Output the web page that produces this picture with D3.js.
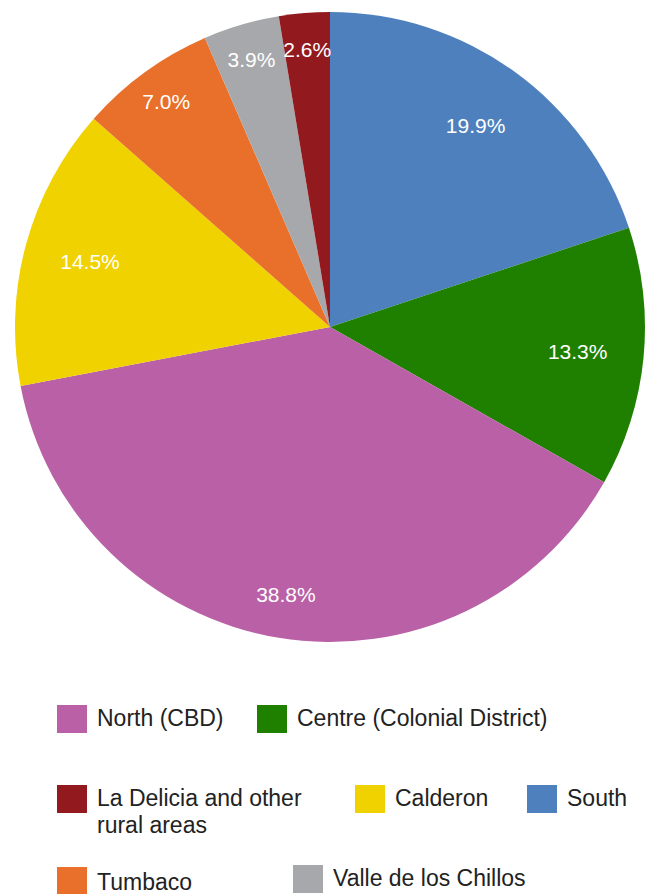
<!DOCTYPE html>
<html><head><meta charset="utf-8">
<script src="https://cdn.jsdelivr.net/npm/d3@7/dist/d3.min.js"></script>
<style>body{margin:0;background:#fff}svg{display:block}text{font-family:"Liberation Sans",Arial,Helvetica,sans-serif}</style>
</head><body><svg id="c" width="652" height="894"></svg>
<script>
const categories = ["South","Centre (Colonial District)","North (CBD)","Calderon","Tumbaco","Valle de los Chillos","La Delicia and other rural areas"];
const values = [19.9, 13.3, 38.8, 14.5, 7.0, 3.9, 2.6];
const colors = ["#4e80bd","#1f8000","#b960a6","#f0d200","#e9702a","#a7a8ab","#921a1e"];

const svg = d3.select("#c");
const cx = 330, cy = 327, R = 315;
const pie = d3.pie().sort(null).value(d => d.v);
const data = pie(categories.map((c,i)=>({c, v: values[i], col: colors[i]})));
const arc = d3.arc().innerRadius(0).outerRadius(R);
const g = svg.append("g").attr("transform", `translate(${cx},${cy})`);
g.selectAll("path").data(data).join("path").attr("d", arc).attr("fill", d => d.data.col);

function labelRadius(d) {
  const f = (d.endAngle - d.startAngle) / (2*Math.PI);
  if (f > 0.3) return R*0.86;
  if (f > 0.1) return R*0.79;
  return R*0.885;
}
g.selectAll("text.lbl").data(data).join("text").attr("class","lbl")
  .attr("transform", d => {
    const r = labelRadius(d);
    const [x,y] = d3.arc().innerRadius(r).outerRadius(r).centroid(d);
    return `translate(${x},${y})`;
  })
  .attr("text-anchor","middle").attr("dominant-baseline","central")
  .attr("fill","#fff").attr("font-size", 21)
  .text(d => d.data.v.toFixed(1) + "%");

// legend
const legendLayout = [
  {c:"North (CBD)", x:57, y:705},
  {c:"Centre (Colonial District)", x:257, y:705},
  {c:"La Delicia and other rural areas", x:57, y:785, lines:["La Delicia and other","rural areas"]},
  {c:"Calderon", x:355, y:785},
  {c:"South", x:527, y:785},
  {c:"Tumbaco", x:57, y:867, dy:2},
  {c:"Valle de los Chillos", x:293, y:865}
];
const lg = svg.append("g");
legendLayout.forEach(item => {
  const i = categories.indexOf(item.c);
  lg.append("rect").attr("x", item.x).attr("y", item.y).attr("width", 30).attr("height", 28).attr("fill", colors[i]);
  const t = lg.append("text").attr("x", item.x + 40).attr("y", item.y + 21 + (item.dy||0))
    .attr("font-size", 23).attr("fill", "#222");
  const lines = item.lines || [item.c];
  lines.forEach((l, k) => t.append("tspan").attr("x", item.x + 40).attr("dy", k ? 27 : 0).text(l));
});
</script></body></html>
